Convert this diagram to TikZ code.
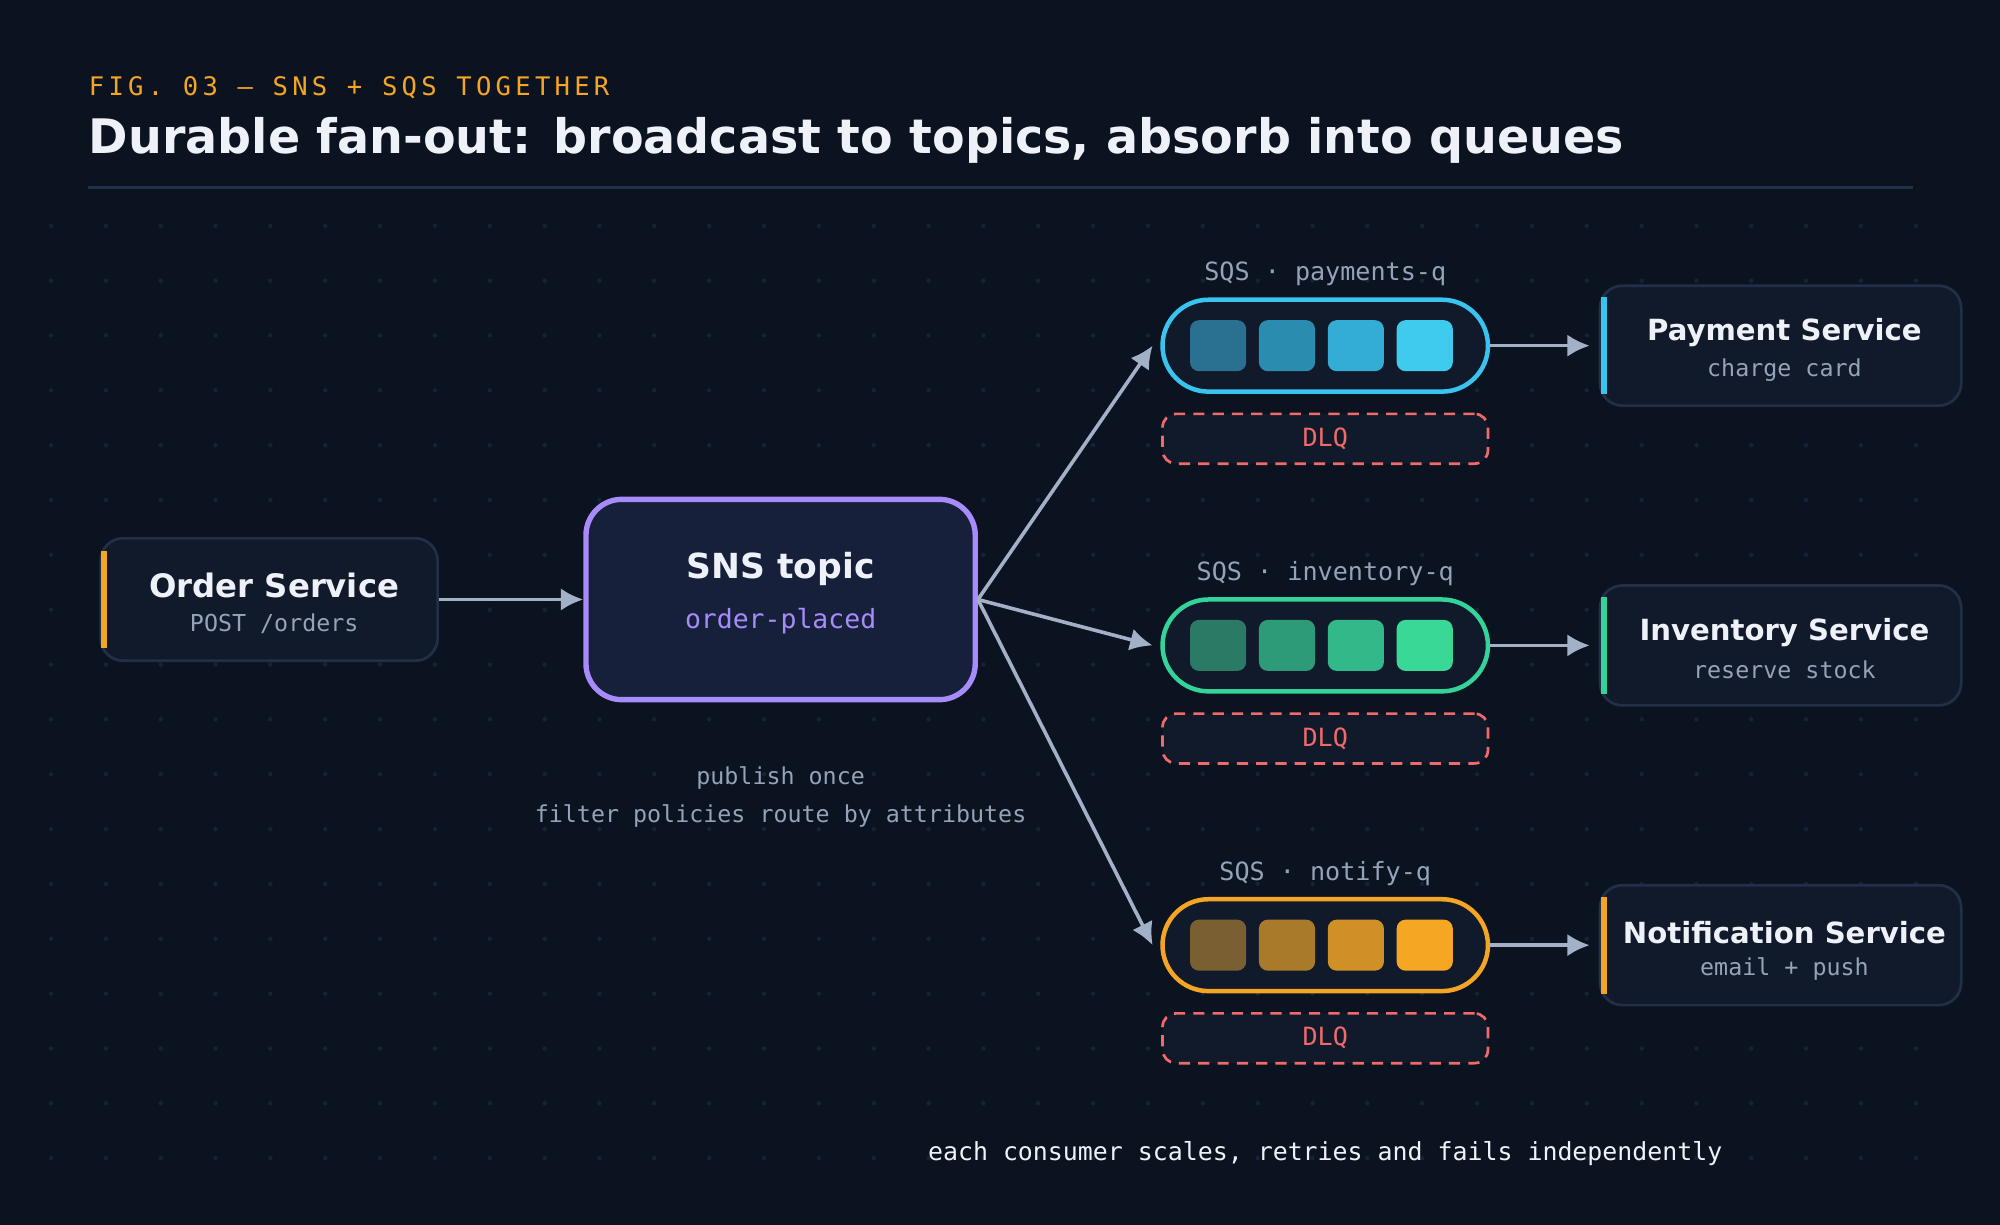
\documentclass[tikz,border=0pt]{standalone}
\usepackage{fontspec}
\setmainfont{DejaVu Sans}
\newfontfamily\monofont{DejaVu Sans Mono}
\usetikzlibrary{arrows.meta}
\usetikzlibrary{positioning}
\definecolor{bg}{HTML}{0B1220}
\definecolor{card}{HTML}{111A2B}
\definecolor{cardedge}{HTML}{223047}
\definecolor{ink}{HTML}{EEF2F8}
\definecolor{muted}{HTML}{94A3B8}
\definecolor{wire}{HTML}{A3B1C8}
\definecolor{accent}{HTML}{F5A524}
\definecolor{violet}{HTML}{A78BFA}
\definecolor{sky}{HTML}{38C4EE}
\definecolor{mint}{HTML}{34D399}
\definecolor{dlq}{HTML}{F06A6A}
\definecolor{topicfill}{HTML}{16203A}
\tikzset{
  card/.style={draw=cardedge, line width=0.6pt, fill=card, rounded corners=5pt, minimum width=2.64cm, minimum height=0.96cm},
  svc/.style={card, minimum width=2.83cm, minimum height=0.94cm},
  pill/.style={draw=#1, line width=1pt, fill=card, rounded corners=0.36cm, minimum width=2.55cm, minimum height=0.72cm},
  cell/.style={fill=#1, rounded corners=2pt, minimum width=0.44cm, minimum height=0.40cm, inner sep=0pt},
  dlqbox/.style={draw=dlq, dash pattern=on 2.5pt off 1.8pt, line width=0.6pt, fill=card, rounded corners=3pt, minimum width=2.55cm, minimum height=0.39cm, inner sep=0pt, text=dlq, font=\monofont\fontsize{5.6}{6}\selectfont},
  svcname/.style={text=ink, font=\bfseries\fontsize{6.5}{7}\selectfont},
  sub/.style={text=muted, font=\monofont\fontsize{5.2}{6}\selectfont},
  link/.style={draw=wire, line width=0.8pt, -{Latex[length=5pt,width=5pt]}}
}
\begin{document}
\begin{tikzpicture}[x=0.01cm, y=-0.01cm]
  \fill[bg] (0,0) rectangle (1568,960);
  \useasboundingbox (0,0) rectangle (1568,960);
  % dotted grid
  \foreach \gx in {40,83,...,1510}
    \foreach \gy in {177,220,...,910}
      \fill[cardedge!55!bg] (\gx,\gy) circle (0.5pt);
  % heading
  \node[anchor=west, inner sep=0pt, text=accent, font=\monofont\fontsize{5.7}{7}\selectfont] (fig) at (69,69) {F\,I\,G\,.\, 0\,3 \,—\, S\,N\,S \,+\, S\,Q\,S \,T\,O\,G\,E\,T\,H\,E\,R};
  \node[anchor=west, inner sep=0pt, text=ink, font=\bfseries\fontsize{10.6}{12}\selectfont] (title) at (69,110) {Durable fan-out: broadcast to topics, absorb into queues};
  \draw[cardedge, line width=0.6pt] (69,147) -- (1500,147);

  % producer
  \node[card] (order) at (211,470) {};
  \fill[accent] (79,432) rectangle (84,508);
  \node[svcname, font=\bfseries\fontsize{7.2}{8}\selectfont] at (215,459) {Order Service};
  \node[sub] at (215,489) {POST /orders};

  % topic
  \node[draw=violet, line width=1.2pt, fill=topicfill, rounded corners=8pt, minimum width=3.05cm, minimum height=1.57cm] (sns) at (612,470) {};
  \node[svcname, font=\bfseries\fontsize{7.7}{9}\selectfont] at (612,446) {SNS topic};
  \node[text=violet, font=\monofont\fontsize{5.9}{7}\selectfont] at (612,487) {order-placed};
  \node[sub] (cap1) at (612,610) {publish once};
  \node[sub] (cap2) at (612,640) {filter policies route by attributes};
  \draw[link] (order.east) -- (sns.west);

  % queues and consumers
  \foreach \q/\y/\c/\ca/\cb/\cc/\cd/\qn/\sn/\sd in {
      pay/271/sky/2A7090/2A8DB0/33ACD6/3ECBEE/payments-q/Payment Service/charge card,
      inv/506/mint/2A7A66/2D9A78/33B889/3AD896/inventory-q/Inventory Service/reserve stock,
      ntf/741/accent/7A5F33/A87A2A/D09028/F5A623/notify-q/Notification Service/email + push} {
    \definecolor{qa}{HTML}{\ca}\definecolor{qb}{HTML}{\cb}
    \definecolor{qc}{HTML}{\cc}\definecolor{qd}{HTML}{\cd}
    \node[pill=\c] (\q) at (1039,\y) {};
    \node[cell=qa] at (955,\y) {};
    \node[cell=qb] at (1009,\y) {};
    \node[cell=qc] at (1063,\y) {};
    \node[cell=qd] at (1117,\y) {};
    \node[sub, font=\monofont\fontsize{5.6}{7}\selectfont] (\q lbl) at (1039,\y-56) {SQS · \qn};
    \node[dlqbox] (\q dlq) at (1039,\y+73) {DLQ};
    \node[svc] (\q svc) at (1396,\y) {};
    \fill[\c] (1255,\y-38) rectangle (1260,\y+38);
    \node[svcname] at (1399,\y-10) {\sn};
    \node[sub] at (1399,\y+19) {\sd};
    \draw[link] (sns.east) -- ([xshift=-0.06cm]\q.west);
    \draw[link] (\q.east) -- ([xshift=-0.07cm]\q svc.west);
  }

  \node[text=ink, font=\monofont\fontsize{5.55}{7}\selectfont] (foot) at (1039,904) {each consumer scales, retries and fails independently};
\end{tikzpicture}
\end{document}
